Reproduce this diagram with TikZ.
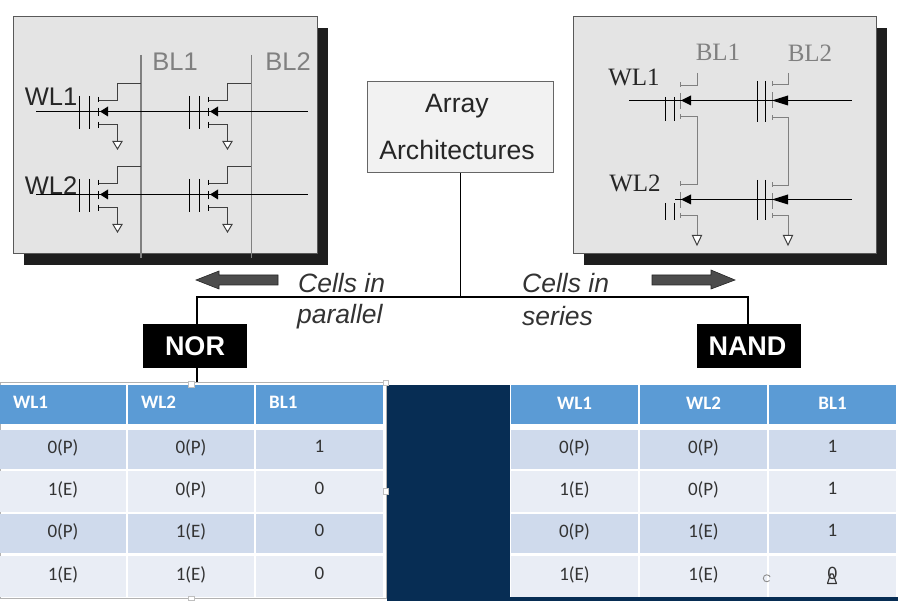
\documentclass[tikz,border=0pt]{standalone}
\usepackage{fontspec}
\setmainfont{Liberation Sans}
\newfontfamily\serifface{Liberation Serif}
\newfontfamily\cellface{Carlito}
\usetikzlibrary{arrows.meta}
\definecolor{shadowc}{HTML}{1E1E1E}
\definecolor{panelc}{HTML}{E4E4E4}
\definecolor{wirec}{HTML}{808080}
\definecolor{navyc}{HTML}{072D54}
\definecolor{headc}{HTML}{5B9BD5}
\definecolor{bandA}{HTML}{CFDAEC}
\definecolor{bandB}{HTML}{E9EDF5}
\definecolor{inkc}{HTML}{333333}
\tikzset{
  panel/.style={draw=black!65,line width=1pt,fill=panelc},
  shadowbox/.style={fill=shadowc},
  grayline/.style={draw=wirec,line width=1.5pt},
  thinwire/.style={draw=black!75,line width=1pt},
  gatebar/.style={draw=black,line width=1pt},
  wordline/.style={draw=black,line width=1pt},
  ground/.style={draw=black!75,line width=1pt,fill=white},
  lefttext/.style={font=\fontsize{25.5}{25.5}\selectfont},
  serift/.style={font=\serifface\fontsize{25}{25}\selectfont},
  italt/.style={font=\itshape\fontsize{26.5}{26.5}\selectfont,anchor=west,text=black!80,inner sep=0pt},
  blackbox/.style={fill=black,text=white,inner sep=0pt,minimum width=104pt,minimum height=44pt,font=\bfseries\fontsize{27}{27}\selectfont},
  tcell/.style={inner sep=0pt,text=inkc,font=\cellface\fontsize{19}{19}\selectfont},
  thead/.style={tcell,fill=headc,text=white,font=\cellface\bfseries\fontsize{19}{19}\selectfont},
  theadleft/.style={anchor=west,inner sep=0pt,text=white,font=\cellface\bfseries\fontsize{19}{19}\selectfont},
  blockarrow/.style={fill=black!70,draw=black!85,line width=.6pt},
  handle/.style={fill=white,draw=black!25,line width=.5pt},
  titletext/.style={font=\fontsize{26.6}{26.6}\selectfont,text=black!85},
}
\newcommand{\cellbox}[7]{% name, style, x0, y0, x1, y1, text
  \node[#2,minimum width=#5pt-#3pt,minimum height=#6pt-#4pt] (#1) at ({(#3+#5)/2},{(#4+#6)/2}) {\raisebox{6.5pt}{#7}};}
\newcommand{\headbox}[7]{% name, style, x0, y0, x1, y1, text
  \node[#2,minimum width=#5pt-#3pt,minimum height=#6pt-#4pt] (#1) at ({(#3+#5)/2},{(#4+#6)/2}) {\raisebox{3pt}{#7}};}
\newcommand{\leftcell}[2]{% x offset, y offset
  \begin{scope}[shift={(#1,#2)}]
    \draw[gatebar] (79.5,96)--(79.5,129) (89.5,96)--(89.5,129);
    \draw[gatebar] (98.5,97)--(98.5,102) (98.5,108)--(98.5,116) (98.5,122)--(98.5,128);
    \draw[thinwire] (98.5,100.5)--(117.5,100.5)--(117.5,83.5)--(141,83.5);
    \draw[thinwire] (98.5,124.5)--(117.5,124.5)--(117.5,141);
    \draw[ground] (113,141.5)--(122,141.5)--(117.5,149)--cycle;
    \fill[black] (100,111.5)--(108,106.5)--(108,116.5)--cycle;
  \end{scope}}
\newcommand{\rightcell}[8]{% gate x1,x2,y1,y2, channel x, y1 top stub, y2 bottom stub, wire x
  \draw[gatebar,line width=1.2pt] (#1,#3)--(#1,#4) (#2,#3)--(#2,#4);
  \draw[draw=wirec,line width=1pt] (#5,#6-3)--(#5,#6+2) (#5,#6+8)--(#5,#6+24) (#5,#7-2)--(#5,#7+3);
  \draw[grayline] (#5,#6)--(#8,#6) (#5,#7)--(#8,#7);
}
\begin{document}
\begin{tikzpicture}[x=1pt,y=-1pt]
\useasboundingbox (0,0) rectangle (898,601);
\fill[white] (0,0) rectangle (898,601);

% left panel
\fill[shadowbox] (24,28) rectangle (328,265);
\draw[panel] (13,17) rectangle (317,254);
\draw[grayline] (141,55)--(141,258) (251.5,55)--(251.5,258);
\leftcell{0}{0}\leftcell{110}{0}\leftcell{0}{83}\leftcell{110}{83}
\draw[wordline] (36,111.5)--(308,111.5);
\draw[wordline,line width=1.5pt] (36,194.5)--(308,194.5);
\node[lefttext,text=black!85] (lwl1) at (51,97) {WL1};
\node[lefttext,text=black!85] (lwl2) at (51,186) {WL2};
\node[lefttext,text=wirec] (lbl1) at (175,62) {BL1};
\node[lefttext,text=wirec] (lbl2) at (288,62) {BL2};

% right panel
\fill[shadowbox] (584,28) rectangle (887,265);
\draw[panel] (573,17) rectangle (876,254);
\rightcell{665.5}{674.5}{97}{121}{680.5}{85.5}{116.5}{697.5}
\rightcell{757.5}{765.5}{81}{122}{772.5}{84.5}{117.5}{788.5}
\rightcell{665.5}{674.5}{203}{220}{680.5}{184.5}{215.5}{697.5}
\rightcell{757.5}{765.5}{180}{220}{772.5}{185.5}{215.5}{788.5}
\draw[grayline] (697.5,73)--(697.5,85.5) (697.5,116.5)--(697.5,184.5) (697.5,215.5)--(697.5,235);
\draw[grayline] (788.5,73)--(788.5,84.5) (788.5,117.5)--(788.5,185.5) (788.5,215.5)--(788.5,235);
\draw[ground] (692.5,235.5)--(701.5,235.5)--(697,245)--cycle;
\draw[ground] (783.5,235.5)--(792.5,235.5)--(788,245)--cycle;
\draw[wordline] (629,100.5)--(852,100.5);
\draw[wordline] (675,199.5)--(852,199.5);
\fill[black] (681,100.5)--(691,95.5)--(691,105.5)--cycle;
\fill[black] (772,100.5)--(788,95.5)--(788,105.5)--cycle;
\fill[black] (681,199.5)--(691,194.5)--(691,204.5)--cycle;
\fill[black] (772,199.5)--(788,194.5)--(788,204.5)--cycle;
\node[serift,text=black!85] (rwl1) at (634,77) {WL1};
\node[serift,text=black!85] (rwl2) at (635,183) {WL2};
\node[serift,text=wirec] (rbl1) at (718,52) {BL1};
\node[serift,text=wirec] (rbl2) at (810,53) {BL2};

% tree
\node[draw=black!60,line width=1pt,fill=black!5,minimum width=186pt,minimum height=91pt,inner sep=0pt] (array) at (460,127.5) {};
\node[titletext] (t1) at (457,106) {Array};
\node[titletext] (t2) at (457,150) {Architectures};
\node[blackbox] (nor) at (195,346) {NOR};
\node[blackbox] (nand) at (749,346) {\hspace{-3pt}NAND};
\coordinate (hub) at (460.5,297);
\coordinate (tabletop) at (197,382);
\draw[line width=1.3pt] (array.south -| hub)--(hub);
\draw[line width=1.3pt] (197,324)--(197,297)--(748,297)--(748,324);
\draw[line width=1.5pt] (197,368)--(tabletop);

\draw[blockarrow] (278,275)--(219,275)--(219,271)--(196,280)--(219,289)--(219,285)--(278,285)--cycle;
\draw[blockarrow] (652,275)--(711,275)--(711,270)--(735,280)--(711,289)--(711,285)--(652,285)--cycle;
\node[italt] (c1) at (298,283) {Cells in};
\node[italt] (c2) at (297,317) {parallel};
\node[italt] (c3) at (522,283) {Cells in};
\node[italt] (c4) at (522,316) {series};

% navy block and right table ground
\fill[navyc] (387,385) rectangle (898,601);
\fill[white] (510,385) rectangle (898,597);

% left table
\draw[draw=black!30,line width=.7pt] (0,382.5) rectangle (386,598);
\headbox{a0}{thead}{0}{385}{126}{424}{}
\headbox{b0}{thead}{128}{385}{254}{424}{}
\headbox{c0}{thead}{256}{385}{383}{424}{}
\node[theadleft] (ah) at (13,402.5) {WL1};
\node[theadleft] (bh) at (141,402.5) {WL2};
\node[theadleft] (ch) at (269,402.5) {BL1};
\cellbox{a1}{tcell,fill=bandA}{0}{430}{126}{469}{0(P)}
\cellbox{b1}{tcell,fill=bandA}{128}{430}{254}{469}{0(P)}
\cellbox{c1}{tcell,fill=bandA}{256}{430}{383}{469}{1}
\cellbox{a2}{tcell,fill=bandB}{0}{471}{126}{512}{1(E)}
\cellbox{b2}{tcell,fill=bandB}{128}{471}{254}{512}{0(P)}
\cellbox{c2}{tcell,fill=bandB}{256}{471}{383}{512}{0}
\cellbox{a3}{tcell,fill=bandA}{0}{514}{126}{553}{0(P)}
\cellbox{b3}{tcell,fill=bandA}{128}{514}{254}{553}{1(E)}
\cellbox{c3}{tcell,fill=bandA}{256}{514}{383}{553}{0}
\cellbox{a4}{tcell,fill=bandB}{0}{556}{126}{597}{1(E)}
\cellbox{b4}{tcell,fill=bandB}{128}{556}{254}{597}{1(E)}
\cellbox{c4}{tcell,fill=bandB}{256}{556}{383}{597}{0}
\fill[handle] (188,381) rectangle (194,387);
\fill[handle] (383,380) rectangle (388,385);
\fill[handle] (383,488) rectangle (388,494);
\fill[handle] (188,596) rectangle (194,600);

% right table
\headbox{d0}{thead}{511}{385}{638}{424}{WL1}
\headbox{e0}{thead}{640}{385}{767}{424}{WL2}
\headbox{f0}{thead}{769}{385}{896}{424}{BL1}
\cellbox{d1}{tcell,fill=bandA}{511}{430}{638}{469}{0(P)}
\cellbox{e1}{tcell,fill=bandA}{640}{430}{767}{469}{0(P)}
\cellbox{f1}{tcell,fill=bandA}{769}{430}{896}{469}{1}
\cellbox{d2}{tcell,fill=bandB}{511}{471}{638}{512}{1(E)}
\cellbox{e2}{tcell,fill=bandB}{640}{471}{767}{512}{0(P)}
\cellbox{f2}{tcell,fill=bandB}{769}{471}{896}{512}{1}
\cellbox{d3}{tcell,fill=bandA}{511}{514}{638}{553}{0(P)}
\cellbox{e3}{tcell,fill=bandA}{640}{514}{767}{553}{1(E)}
\cellbox{f3}{tcell,fill=bandA}{769}{514}{896}{553}{1}
\cellbox{d4}{tcell,fill=bandB}{511}{556}{638}{597}{1(E)}
\cellbox{e4}{tcell,fill=bandB}{640}{556}{767}{597}{1(E)}
\cellbox{f4}{tcell,fill=bandB}{769}{556}{896}{597}{0}
% overlaid cursor marks of the screenshot
\draw[draw=black!45,line width=.9pt] (769.5,580.5) arc (40:340:3.5);
\draw[draw=black!80,line width=1.1pt,line join=round] (827.5,583.5)--(830.5,574)--(833,574)--(836.5,583.5)--cycle;
\end{tikzpicture}
\end{document}
